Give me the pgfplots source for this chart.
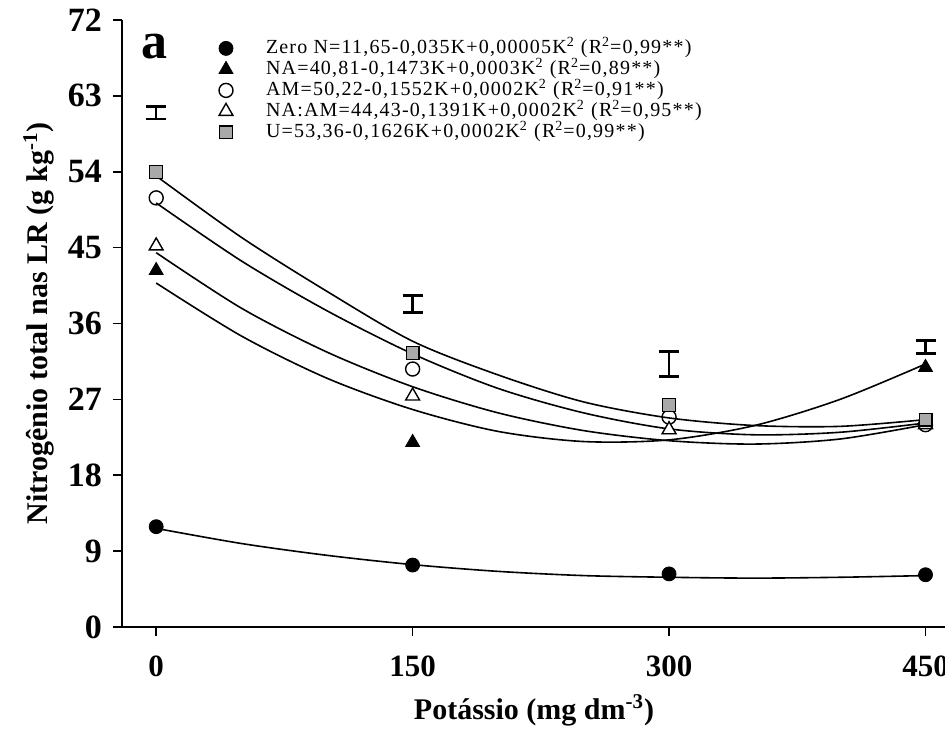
\documentclass[border=0pt]{standalone}
\usepackage{pgfplots}
\pgfplotsset{compat=1.18}
\usepackage{fontspec}
\setmainfont{Liberation Serif}
\newfontfamily\legfont[LetterSpace=6]{Liberation Serif}

\definecolor{sqgray}{HTML}{A9A9A9}

\begin{document}
\begin{tikzpicture}
\begin{axis}[
  scale only axis,
  width=412pt, height=303.5pt,
  xmin=-20, xmax=462,
  ymin=0, ymax=72,
  axis lines=left,
  axis line style={-, line width=1.2pt},
  xtick={0,150,300,450},
  ytick={0,9,18,27,36,45,54,63,72},
  tick align=outside,
  major tick length=4.5pt,
  tick style={black, line width=0.8pt},
  /pgf/number format/assume math mode=true,
  xticklabel style={font=\fontsize{15.5}{16}\bfseries\selectfont, yshift=-6.5pt},
  yticklabel style={font=\fontsize{17}{18}\bfseries\selectfont, xshift=-2pt},
  xlabel={\textbf{Potássio (mg dm\textsuperscript{-3})}},
  ylabel={\textbf{Nitrogênio total nas LR (g kg\textsuperscript{-1})}},
  label style={font=\fontsize{15}{16}\selectfont},
  xlabel style={yshift=-2pt},
  legend style={draw=none, fill=none, at={(axis cs:33,70.4)}, anchor=north west,
    font=\legfont\fontsize{10}{10}\selectfont, row sep=0pt,
    nodes={inner sep=0.5pt, text height=7.3pt, text depth=2.2pt},
    /tikz/every odd column/.append style={column sep=16pt}},
  legend cell align=left,
]
% fitted curves
\addplot[forget plot, smooth, black, line width=0.8pt] coordinates {
(0,11.7) (50,9.9) (100,8.5) (150,7.4) (200,6.6) (250,6.1) (300,5.9) (350,5.8) (400,5.9) (450,6.1)};
\addplot[forget plot, smooth, black, line width=0.8pt] coordinates {
(0,40.8) (50,34.5) (100,29.5) (150,25.8) (200,23.2) (250,22.0) (300,22.2) (350,23.9) (400,27.0) (450,31.2)};
\addplot[forget plot, smooth, black, line width=0.8pt] coordinates {
(0,50.3) (50,43.4) (100,37.5) (150,32.4) (200,28.3) (250,25.4) (300,23.5) (350,22.8) (400,23.1) (450,24.2)};
\addplot[forget plot, smooth, black, line width=0.8pt] coordinates {
(0,44.4) (50,37.8) (100,32.6) (150,28.5) (200,25.4) (250,23.3) (300,22.1) (350,21.7) (400,22.3) (450,24.0)};
\addplot[forget plot, smooth, black, line width=0.8pt] coordinates {
(0,53.5) (50,46.2) (100,39.8) (150,33.9) (200,29.9) (250,26.7) (300,24.8) (350,23.9) (400,23.8) (450,24.6)};

% error bars
\addplot[forget plot, draw=none, mark=none,
  error bars/.cd, y dir=both, y explicit,
  error bar style={draw=black, line width=1.3pt},
  error mark options={draw=black, rotate=90, mark size=5pt, line width=1.3pt}]
  coordinates {(0,61.0) +- (0,0.75) (150,38.3) +- (0,1.0) (300,31.2) +- (0,1.45) (450,33.2) +- (0,0.75)};

% observed means
\addplot[only marks, mark=*, mark size=3.5pt, black, mark options={fill=black}] coordinates {
(0,11.9) (150,7.35) (300,6.3) (450,6.2)};
\addlegendentry{Zero N=11,65-0,035K+0,00005K\textsuperscript{2} (R\textsuperscript{2}=0,99**)}
\addplot[only marks, mark=triangle*, mark size=4pt, black, mark options={fill=black}] coordinates {
(0,42.3) (150,21.9) (300,23.4) (450,30.8)};
\addlegendentry{NA=40,81-0,1473K+0,0003K\textsuperscript{2} (R\textsuperscript{2}=0,89**)}
\addplot[only marks, mark=o, mark size=3.5pt, black, mark options={fill=white, line width=0.7pt}] coordinates {
(0,50.9) (150,30.6) (300,24.9) (450,24.0)};
\addlegendentry{AM=50,22-0,1552K+0,0002K\textsuperscript{2} (R\textsuperscript{2}=0,91**)}
\addplot[only marks, mark=triangle*, mark size=4pt, black, mark options={fill=white, line width=0.7pt}] coordinates {
(0,45.2) (150,27.4) (300,23.4) (450,24.0)};
\addlegendentry{NA:AM=44,43-0,1391K+0,0002K\textsuperscript{2} (R\textsuperscript{2}=0,95**)}
\addplot[only marks, mark=square*, mark size=3.2pt, black, mark options={fill=sqgray, line width=0.6pt}] coordinates {
(0,54.0) (150,32.5) (300,26.3) (450,24.6)};
\addlegendentry{U=53,36-0,1626K+0,0002K\textsuperscript{2} (R\textsuperscript{2}=0,99**)}

\node[font=\fontsize{26}{26}\bfseries\selectfont] at (axis cs:-1,68.8) {a};
\end{axis}
\pgfresetboundingbox
\useasboundingbox (-61pt,-57pt) rectangle (411.5pt,313.5pt);
\end{tikzpicture}
\end{document}
